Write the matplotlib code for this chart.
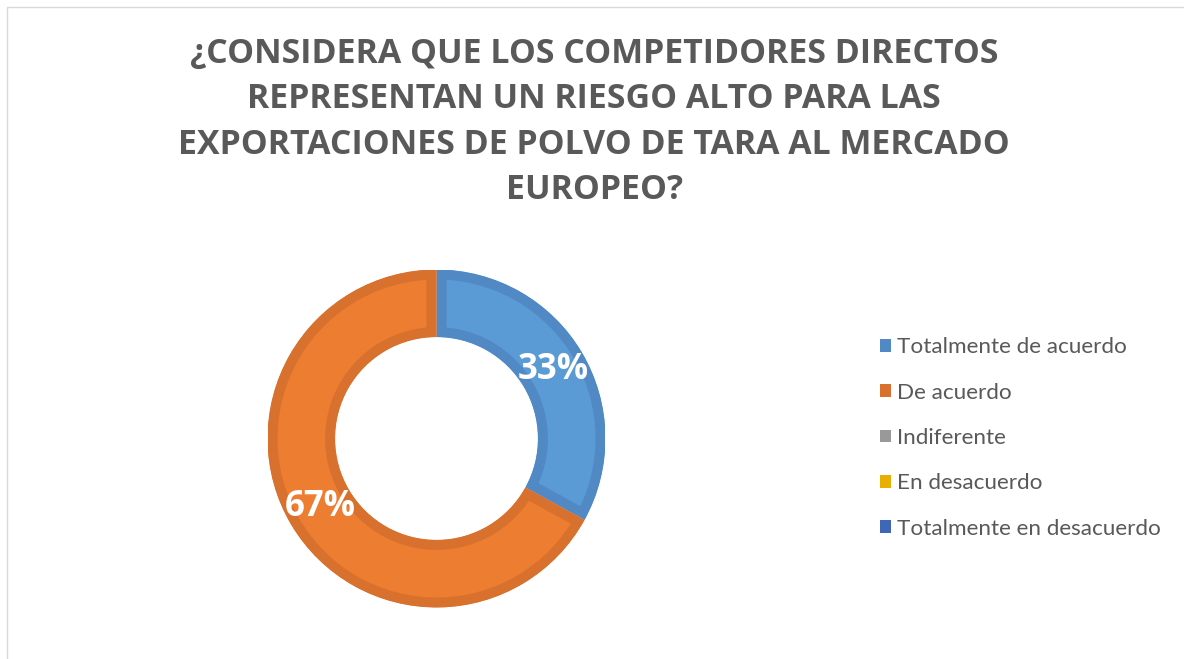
import matplotlib.pyplot as plt
from matplotlib.patches import Patch, Rectangle

categories = ["Totalmente de acuerdo", "De acuerdo", "Indiferente",
              "En desacuerdo", "Totalmente en desacuerdo"]
values = [33, 67, 0, 0, 0]
fill_colors = ["#5B9BD5", "#ED7D31", "#A5A5A5", "#FFC000", "#4472C4"]
edge_colors = ["#5189C5", "#D8712D", "#999999", "#E8AE00", "#3E68B5"]
title = ("¿CONSIDERA QUE LOS COMPETIDORES DIRECTOS\n"
         "REPRESENTAN UN RIESGO ALTO PARA LAS\n"
         "EXPORTACIONES DE POLVO DE TARA AL MERCADO\n"
         "EUROPEO?")

W, H = 1184, 659
fig = plt.figure(figsize=(W / 100, H / 100), dpi=100)
fig.patch.set_facecolor("white")

# light frame, only left and top visible in the reference
fig.patches.append(Rectangle((7 / W, -0.5), 2, 1.5 - 7 / H, transform=fig.transFigure,
                             fill=False, edgecolor="#D9D9D9", linewidth=1))

cx, cy, r = 436.5, 438.5, 169
ax = fig.add_axes([(cx - r) / W, (H - cy - r) / H, 2 * r / W, 2 * r / H])

shown = [i for i, v in enumerate(values) if v > 0]
wedges, texts, autotexts = ax.pie(
    [values[i] for i in shown],
    colors=[fill_colors[i] for i in shown],
    startangle=90, counterclock=False, radius=1,
    wedgeprops=dict(width=0.4),
    autopct=lambda p: f"{p:.0f}%", pctdistance=0.8,
    textprops=dict(color="white", fontsize=25, fontweight="bold", family="Open Sans"))
# darker border drawn inside each slice
for w, i in zip(wedges, shown):
    w.set_edgecolor(edge_colors[i])
    w.set_linewidth(14.4)
    w.set_clip_on(True)
    w.set_clip_path(w)
ax.set_xlim(-1, 1)
ax.set_ylim(-1, 1)
ax.set_aspect("equal")

fig.text(0.502, 1 - 122 / H, title, ha="center", va="center", fontsize=24.4,
         fontweight="bold", color="#595959", family="Open Sans", linespacing=1.43)

handles = [Patch(facecolor=edge_colors[i], edgecolor="none") for i in range(len(categories))]
fig.legend(handles, categories, loc="center left", bbox_to_anchor=(880 / W, 1 - 438 / H),
           frameon=False, labelcolor="#595959", handlelength=0.5,
           handleheight=0.5, handletextpad=0.27, labelspacing=1.13,
           borderpad=0, borderaxespad=0,
           prop=dict(family="Lato", size=16.2))

fig.savefig("out.png", dpi=100)
